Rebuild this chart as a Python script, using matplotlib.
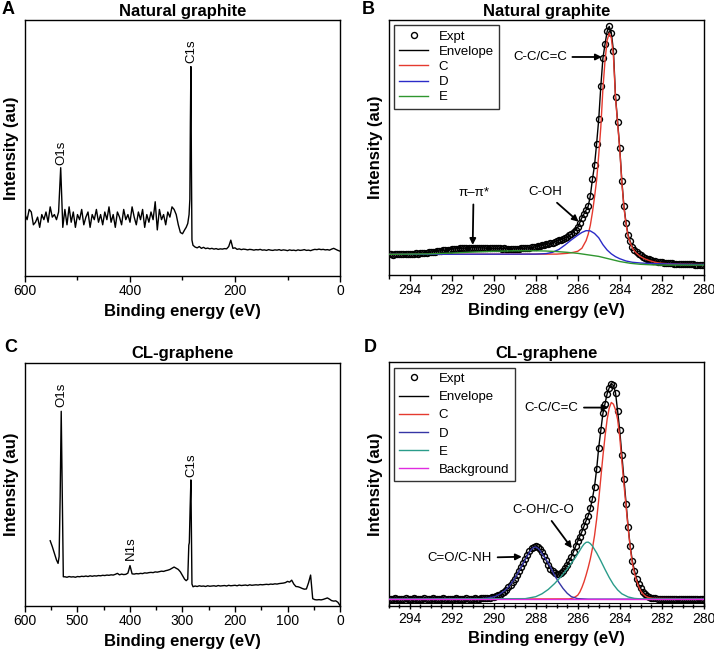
import numpy as np
import matplotlib
matplotlib.use("Agg")
import matplotlib.pyplot as plt
from matplotlib.ticker import MultipleLocator

plt.rcParams['font.family'] = ['Liberation Sans', 'DejaVu Sans']

# ---- survey spectrum, natural graphite (A) ----
noise_x_a = np.arange(600, 295, -4)
noise_y_a = [0.24, 0.22, 0.26, 0.25, 0.20, 0.21, 0.23, 0.19, 0.24, 0.22,
             0.25, 0.21, 0.27, 0.23, 0.24, 0.22, 0.25, 0.423, 0.19, 0.26,
             0.20, 0.27, 0.21, 0.25, 0.19, 0.24, 0.22, 0.26, 0.20, 0.23,
             0.25, 0.19, 0.24, 0.22, 0.26, 0.21, 0.24, 0.20, 0.25, 0.22,
             0.27, 0.21, 0.24, 0.19, 0.25, 0.23, 0.20, 0.26, 0.22, 0.24,
             0.21, 0.27, 0.23, 0.20, 0.25, 0.22, 0.26, 0.19, 0.24, 0.21,
             0.25, 0.22, 0.29, 0.18, 0.26, 0.22, 0.24, 0.20, 0.25, 0.23,
             0.27, 0.26, 0.24, 0.20, 0.17, 0.165, 0.18]
peak_x_a = [293, 290, 287.5, 286, 285, 284, 283, 282, 280]
peak_y_a = [0.19, 0.205, 0.24, 0.30, 0.60, 0.818, 0.43, 0.14, 0.12]
tail_x_a = np.arange(276, -1, -4)
tail_y_a = [0.113, 0.110, 0.115, 0.108, 0.112, 0.107, 0.109, 0.106, 0.108, 0.105,
            0.107, 0.104, 0.106, 0.105, 0.107, 0.106, 0.115, 0.140, 0.108, 0.110,
            0.104, 0.106, 0.103, 0.105, 0.104, 0.102, 0.104, 0.103, 0.101, 0.103,
            0.102, 0.104, 0.101, 0.102, 0.100, 0.103, 0.101, 0.100, 0.102, 0.101,
            0.103, 0.100, 0.102, 0.101, 0.099, 0.102, 0.100, 0.101, 0.099, 0.102,
            0.100, 0.101, 0.103, 0.100, 0.101, 0.099, 0.102, 0.104, 0.103, 0.105,
            0.103, 0.104, 0.102, 0.103, 0.101, 0.105, 0.108, 0.104, 0.100, 0.097]

# ---- survey spectrum, CL-graphene (C) ----
head_x_c = [552, 548, 544, 540, 537, 535, 533, 531, 529, 527]
head_y_c = [0.268, 0.244, 0.216, 0.189, 0.175, 0.203, 0.45, 0.80, 0.45, 0.12]
mid_x_c = np.arange(524, 303, -4)
mid_y_c = [0.120, 0.118, 0.121, 0.119, 0.120, 0.118, 0.121, 0.120, 0.122, 0.121,
           0.123, 0.121, 0.124, 0.122, 0.124, 0.123, 0.125, 0.124, 0.126, 0.125,
           0.127, 0.126, 0.128, 0.127, 0.130, 0.134, 0.128, 0.131, 0.129, 0.130,
           0.135, 0.166, 0.132, 0.131, 0.133, 0.132, 0.134, 0.133, 0.136, 0.135,
           0.137, 0.138, 0.137, 0.140, 0.139, 0.141, 0.143, 0.142, 0.145, 0.147,
           0.150, 0.155, 0.160, 0.155, 0.150, 0.140]
peak_x_c = [300, 296, 293, 290, 288, 287, 285.5, 284, 283, 282, 280]
peak_y_c = [0.125, 0.11, 0.104, 0.11, 0.25, 0.26, 0.40, 0.518, 0.30, 0.09, 0.079]
tail_x_c = np.arange(276, -1, -4)
tail_y_c = [0.082, 0.080, 0.083, 0.081, 0.082, 0.080, 0.083, 0.081, 0.082, 0.083,
            0.081, 0.084, 0.082, 0.083, 0.084, 0.082, 0.085, 0.083, 0.084, 0.085,
            0.083, 0.086, 0.084, 0.085, 0.086, 0.084, 0.087, 0.085, 0.086, 0.087,
            0.086, 0.088, 0.087, 0.088, 0.089, 0.088, 0.090, 0.089, 0.091, 0.090,
            0.092, 0.093, 0.094, 0.096, 0.101, 0.098, 0.106, 0.090, 0.080, 0.079,
            0.076, 0.072, 0.069, 0.070, 0.095, 0.127, 0.030, 0.026, 0.025, 0.026,
            0.025, 0.027, 0.030, 0.033, 0.028, 0.022, 0.020, 0.021, 0.015, 0.002]

# ---- C1s high resolution, natural graphite (B) ----
hr_energy = np.linspace(295, 280, 151)
expt_b = [0.081, 0.082, 0.080, 0.082, 0.081, 0.083, 0.082, 0.081, 0.083, 0.082,
          0.083, 0.084, 0.083, 0.085, 0.084, 0.086, 0.085, 0.087, 0.088, 0.089,
          0.090, 0.091, 0.092, 0.093, 0.094, 0.095, 0.097, 0.098, 0.099, 0.100,
          0.101, 0.102, 0.103, 0.103, 0.104, 0.105, 0.105, 0.106, 0.106, 0.107,
          0.107, 0.107, 0.106, 0.107, 0.106, 0.106, 0.105, 0.106, 0.105, 0.105,
          0.104, 0.105, 0.104, 0.104, 0.103, 0.104, 0.103, 0.103, 0.102, 0.103,
          0.102, 0.103, 0.103, 0.104, 0.104, 0.105, 0.106, 0.107, 0.108, 0.109,
          0.110, 0.112, 0.114, 0.116, 0.118, 0.120, 0.122, 0.124, 0.127, 0.130,
          0.133, 0.136, 0.139, 0.142, 0.146, 0.150, 0.155, 0.161, 0.168, 0.177,
          0.188, 0.205, 0.225, 0.240, 0.255, 0.270, 0.310, 0.375, 0.430, 0.515,
          0.610, 0.740, 0.850, 0.905, 0.955, 0.975, 0.950, 0.880, 0.700, 0.600,
          0.500, 0.370, 0.270, 0.205, 0.157, 0.132, 0.111, 0.098, 0.090, 0.083,
          0.077, 0.072, 0.068, 0.064, 0.061, 0.058, 0.056, 0.054, 0.052, 0.051,
          0.050, 0.049, 0.048, 0.047, 0.046, 0.046, 0.045, 0.045, 0.044, 0.044,
          0.043, 0.043, 0.043, 0.042, 0.042, 0.042, 0.041, 0.041, 0.041, 0.041,
          0.041]
c_x_b = [295, 287, 286.5, 286.2, 286.0, 285.8, 285.6, 285.5, 285.4, 285.3,
         285.2, 285.1, 285.0, 284.9, 284.8, 284.7, 284.6, 284.5, 284.4, 284.3,
         284.2, 284.1, 284.0, 283.9, 283.8, 283.7, 283.6, 283.5, 283.4, 283.3,
         283.2, 283.1, 283.0, 282.8, 282.6, 282.4, 282.2, 282.0, 281.5, 281.0, 280.0]
c_y_b = [0.081, 0.082, 0.085, 0.089, 0.093, 0.105, 0.135, 0.160, 0.195, 0.245,
         0.305, 0.372, 0.470, 0.580, 0.730, 0.840, 0.920, 0.948, 0.930, 0.860,
         0.695, 0.595, 0.495, 0.365, 0.265, 0.200, 0.152, 0.127, 0.107, 0.094,
         0.085, 0.078, 0.072, 0.063, 0.057, 0.052, 0.048, 0.046, 0.043, 0.042, 0.041]
d_x_b = [295, 288, 287.5, 287.2, 286.9, 286.6, 286.3, 286.0, 285.8, 285.6,
         285.4, 285.2, 285.0, 284.8, 284.6, 284.4, 284.2, 284.0, 283.7, 283.4,
         283.0, 282.5, 282.0, 281.0, 280.0]
d_y_b = [0.081, 0.082, 0.084, 0.089, 0.100, 0.118, 0.138, 0.156, 0.167, 0.174,
         0.173, 0.163, 0.146, 0.119, 0.098, 0.083, 0.072, 0.064, 0.055, 0.050,
         0.047, 0.045, 0.044, 0.042, 0.041]
e_x_b = [295, 293, 292, 291, 290, 289, 288, 287.5, 287, 286.5, 286, 285.5, 285,
         284.5, 284, 283.5, 283, 282.5, 282, 281, 280]
e_y_b = [0.081, 0.083, 0.086, 0.090, 0.093, 0.095, 0.095, 0.094, 0.092, 0.089,
         0.085, 0.079, 0.073, 0.063, 0.053, 0.046, 0.042, 0.040, 0.039, 0.039, 0.039]

# ---- C1s high resolution, CL-graphene (D) ----
expt_d = [0.030, 0.029, 0.030, 0.031, 0.030, 0.029, 0.030, 0.030, 0.031, 0.030,
          0.029, 0.030, 0.031, 0.030, 0.029, 0.030, 0.030, 0.031, 0.030, 0.029,
          0.030, 0.031, 0.030, 0.029, 0.030, 0.030, 0.031, 0.030, 0.030, 0.029,
          0.030, 0.030, 0.031, 0.030, 0.029, 0.030, 0.030, 0.031, 0.030, 0.030,
          0.030, 0.031, 0.030, 0.030, 0.031, 0.031, 0.032, 0.033, 0.034, 0.036,
          0.038, 0.040, 0.043, 0.047, 0.052, 0.058, 0.066, 0.076, 0.087, 0.099,
          0.112, 0.127, 0.143, 0.160, 0.177, 0.194, 0.210, 0.224, 0.236, 0.243,
          0.245, 0.240, 0.232, 0.221, 0.205, 0.187, 0.168, 0.153, 0.142, 0.135,
          0.131, 0.130, 0.134, 0.142, 0.155, 0.170, 0.185, 0.202, 0.222, 0.245,
          0.266, 0.285, 0.305, 0.328, 0.350, 0.370, 0.400, 0.440, 0.490, 0.560,
          0.650, 0.720, 0.790, 0.830, 0.870, 0.895, 0.910, 0.905, 0.875, 0.800,
          0.720, 0.620, 0.520, 0.420, 0.325, 0.245, 0.185, 0.145, 0.112, 0.090,
          0.072, 0.058, 0.048, 0.041, 0.037, 0.034, 0.032, 0.031, 0.030, 0.030,
          0.030, 0.029, 0.030, 0.030, 0.029, 0.030, 0.030, 0.029, 0.030, 0.030,
          0.029, 0.030, 0.030, 0.029, 0.030, 0.030, 0.029, 0.030, 0.030, 0.029,
          0.030]
c_x_d = [295, 286.4, 286.2, 286.0, 285.9, 285.8, 285.7, 285.6, 285.5, 285.4,
         285.3, 285.2, 285.1, 285.0, 284.9, 284.8, 284.7, 284.6, 284.5, 284.4,
         284.3, 284.2, 284.1, 284.0, 283.9, 283.8, 283.7, 283.6, 283.5, 283.4,
         283.3, 283.2, 283.1, 283.0, 282.9, 282.8, 282.7, 282.6, 282.4, 280]
c_y_d = [0.028, 0.029, 0.033, 0.044, 0.057, 0.076, 0.099, 0.127, 0.158, 0.193,
         0.236, 0.288, 0.355, 0.435, 0.525, 0.615, 0.695, 0.765, 0.812, 0.835,
         0.828, 0.805, 0.765, 0.695, 0.595, 0.500, 0.410, 0.320, 0.240, 0.175,
         0.135, 0.105, 0.080, 0.062, 0.050, 0.042, 0.037, 0.034, 0.031, 0.029]
d_x_d = [295, 290.8, 290.4, 290.1, 289.9, 289.7, 289.5, 289.3, 289.1, 288.9,
         288.7, 288.5, 288.4, 288.3, 288.2, 288.1, 288.0, 287.9, 287.8, 287.7,
         287.5, 287.3, 287.1, 286.9, 286.7, 286.5, 286.3, 286.0, 285.5, 280]
d_y_d = [0.028, 0.029, 0.031, 0.035, 0.040, 0.049, 0.061, 0.078, 0.100, 0.127,
         0.158, 0.190, 0.206, 0.220, 0.232, 0.240, 0.242, 0.237, 0.228, 0.215,
         0.190, 0.160, 0.125, 0.097, 0.072, 0.052, 0.038, 0.030, 0.028, 0.028]
e_x_d = [295, 288.5, 288.0, 287.7, 287.4, 287.1, 286.8, 286.5, 286.3, 286.1,
         285.9, 285.8, 285.7, 285.6, 285.5, 285.4, 285.3, 285.1, 284.9, 284.7,
         284.5, 284.3, 284.1, 283.9, 283.6, 283.3, 283.0, 280]
e_y_d = [0.028, 0.030, 0.038, 0.050, 0.068, 0.092, 0.120, 0.152, 0.176, 0.200,
         0.228, 0.242, 0.254, 0.261, 0.262, 0.256, 0.246, 0.218, 0.185, 0.150,
         0.117, 0.088, 0.066, 0.050, 0.037, 0.031, 0.029, 0.028]
bg_x_d = [295, 280]
bg_y_d = [0.028, 0.028]

RED = "#e53a2f"
BLUE_B = "#2b2bc8"
GREEN_B = "#2f962f"
BLUE_D = "#3535a5"
TEAL_D = "#2a9c8a"
MAGENTA = "#e02be0"


def style_axis(ax, title, xlim, major, minor):
    ax.set_xlim(*xlim)
    ax.set_ylim(0, 1)
    ax.set_yticks([])
    ax.xaxis.set_major_locator(MultipleLocator(major))
    ax.xaxis.set_minor_locator(MultipleLocator(minor))
    ax.tick_params(axis='x', which='major', direction='out', length=4, width=1,
                   labelsize=10, pad=2)
    ax.tick_params(axis='x', which='minor', direction='out', length=3, width=1)
    for sp in ax.spines.values():
        sp.set_linewidth(1.0)
    ax.set_title(title, fontsize=12, fontweight='bold', pad=3)
    ax.set_xlabel("Binding energy (eV)", fontsize=12, fontweight='bold', labelpad=4)
    ax.set_ylabel("Intensity (au)", fontsize=12, fontweight='bold', labelpad=4)


def style_legend(ax, spacing):
    leg = ax.legend(loc='upper left', fontsize=9.5, frameon=True, fancybox=False,
                    borderaxespad=0.4, handlelength=2.2, labelspacing=spacing,
                    handletextpad=0.8, borderpad=0.4)
    leg.get_frame().set_edgecolor('black')
    leg.get_frame().set_linewidth(1.0)


fig = plt.figure(figsize=(7.14, 6.52), dpi=100)
ax_a = fig.add_axes([0.0350, 0.5767, 0.4412, 0.3926])
ax_b = fig.add_axes([0.5444, 0.5782, 0.4412, 0.3911])
ax_c = fig.add_axes([0.0350, 0.0706, 0.4412, 0.3732])
ax_d = fig.add_axes([0.5444, 0.0706, 0.4412, 0.3738])

# A
xa = np.concatenate([noise_x_a, peak_x_a, tail_x_a])
ya = np.concatenate([noise_y_a, peak_y_a, tail_y_a])
ax_a.plot(xa, ya, color='black', lw=1.0)
style_axis(ax_a, "Natural graphite", (600, 0), 200, 100)
ax_a.text(531, 0.434, "O1s", rotation=90, ha='center', va='bottom', fontsize=9.5)
ax_a.text(284, 0.832, "C1s", rotation=90, ha='center', va='bottom', fontsize=9.5)

# C
xc = np.concatenate([head_x_c, mid_x_c, peak_x_c, tail_x_c])
yc = np.concatenate([head_y_c, mid_y_c, peak_y_c, tail_y_c])
ax_c.plot(xc, yc, color='black', lw=1.0)
style_axis(ax_c, "CL-graphene", (600, 0), 100, 50)
ax_c.text(531, 0.818, "O1s", rotation=90, ha='center', va='bottom', fontsize=9.5)
ax_c.text(399, 0.189, "N1s", rotation=90, ha='center', va='bottom', fontsize=9.5)
ax_c.text(284, 0.53, "C1s", rotation=90, ha='center', va='bottom', fontsize=9.5)

arrow = dict(arrowstyle='-|>', color='black', lw=1.3, mutation_scale=9,
             shrinkA=2, shrinkB=0)

# B
ax_b.plot(hr_energy, expt_b, 'o', ms=4.3, mfc='none', mec='black', mew=1.0,
          label='Expt', zorder=2)
ax_b.plot(hr_energy, expt_b, color='black', lw=1.0, label='Envelope', zorder=3)
ax_b.plot(c_x_b, c_y_b, color=RED, lw=1.0, label='C', zorder=4)
ax_b.plot(d_x_b, d_y_b, color=BLUE_B, lw=1.0, label='D', zorder=4)
ax_b.plot(e_x_b, e_y_b, color=GREEN_B, lw=1.0, label='E', zorder=4)
style_axis(ax_b, "Natural graphite", (295, 280), 2, 1)
style_legend(ax_b, 0.22)
ax_b.annotate("C-C/C=C", xy=(284.85, 0.855), xytext=(287.8, 0.855),
              ha='center', va='center', fontsize=9.5, arrowprops=arrow)
ax_b.annotate("C-OH", xy=(285.96, 0.209), xytext=(287.56, 0.325),
              ha='center', va='center', fontsize=9.5, arrowprops=arrow)
ax_b.annotate("\u03c0\u2013\u03c0*", xy=(291.0, 0.118), xytext=(290.96, 0.322),
              ha='center', va='center', fontsize=9.5, arrowprops=arrow)

# D
ax_d.plot(hr_energy, expt_d, 'o', ms=4.3, mfc='none', mec='black', mew=1.0,
          label='Expt', zorder=2)
ax_d.plot(hr_energy, expt_d, color='black', lw=1.0, label='Envelope', zorder=3)
ax_d.plot(c_x_d, c_y_d, color=RED, lw=1.0, label='C', zorder=4)
ax_d.plot(d_x_d, d_y_d, color=BLUE_D, lw=1.0, label='D', zorder=4)
ax_d.plot(e_x_d, e_y_d, color=TEAL_D, lw=1.0, label='E', zorder=4)
ax_d.plot(bg_x_d, bg_y_d, color=MAGENTA, lw=1.0, label='Background', zorder=4)
style_axis(ax_d, "CL-graphene", (295, 280), 2, 0.5)
ax_d.tick_params(axis='x', which='both', direction='inout')
ax_d.axhline(0.014, color='black', lw=0.8, zorder=1)
style_legend(ax_d, 0.45)
ax_d.annotate("C-C/C=C", xy=(284.53, 0.814), xytext=(287.25, 0.814),
              ha='center', va='center', fontsize=9.5, arrowprops=arrow)
ax_d.annotate("C-OH/C-O", xy=(286.28, 0.237), xytext=(287.63, 0.394),
              ha='center', va='center', fontsize=9.5, arrowprops=arrow)
ax_d.annotate("C=O/C-NH", xy=(288.66, 0.202), xytext=(291.61, 0.196),
              ha='center', va='center', fontsize=9.5, arrowprops=arrow)

# panel letters
for letter, (px, py) in zip("ABCD", [(2, 10), (362, 10), (4, 348), (364, 348)]):
    fig.text(px / 714, 1 - py / 652, letter, fontsize=13, fontweight='bold',
             ha='left', va='center')

fig.savefig("out.png", dpi=100)
